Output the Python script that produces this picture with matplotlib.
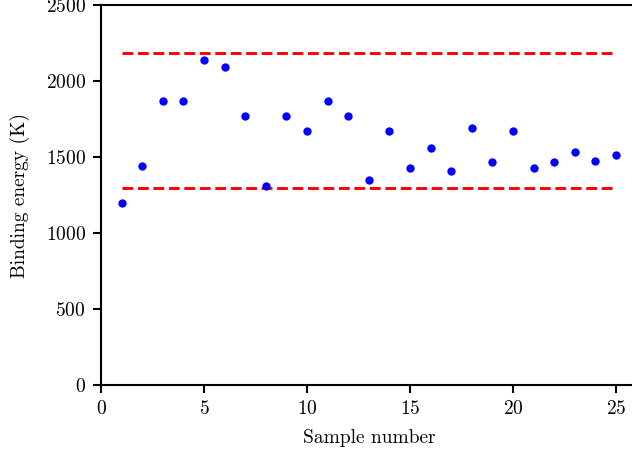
import matplotlib
matplotlib.use("Agg")
import matplotlib.pyplot as plt
import numpy as np

plt.rcParams["font.family"] = "serif"
plt.rcParams["font.serif"] = ["cmr10", "DejaVu Serif"]
plt.rcParams["mathtext.fontset"] = "cm"
plt.rcParams["axes.formatter.use_mathtext"] = True

# binding energy estimate per sample
samples = np.arange(1, 26)
energies = [1200, 1440, 1870, 1870, 2140, 2090, 1770, 1310, 1770, 1670,
            1870, 1770, 1350, 1670, 1430, 1560, 1405, 1690, 1467, 1670,
            1430, 1465, 1530, 1474, 1513]

# bounds of the accepted range
upper_bound = 2185
lower_bound = 1295

fig = plt.figure(figsize=(6.32, 4.57), dpi=100)
ax = fig.add_axes([0.1598, 0.1575, 0.8475, 0.8315])

ax.scatter(samples, energies, s=36, color="blue", zorder=3, linewidths=0)
ax.plot([samples[0], samples[-1]], [upper_bound, upper_bound], "r--", lw=2.1)
ax.plot([samples[0], samples[-1]], [lower_bound, lower_bound], "r--", lw=2.1)

ax.set_xlim(0, 26)
ax.set_ylim(0, 2500)
ax.set_xticks([0, 5, 10, 15, 20, 25])
ax.set_yticks([0, 500, 1000, 1500, 2000, 2500])

for side in ["left", "bottom", "top"]:
    ax.spines[side].set_linewidth(1.5)
ax.spines["right"].set_visible(False)
ax.tick_params(axis="both", direction="out", length=6, width=1.5,
               labelsize=14, pad=5)
ax.tick_params(top=False, right=False)

ax.set_xlabel("Sample number", fontsize=14, labelpad=8)
ax.set_ylabel("Binding energy (K)", fontsize=14, labelpad=11)

fig.savefig("out.png", dpi=100)
